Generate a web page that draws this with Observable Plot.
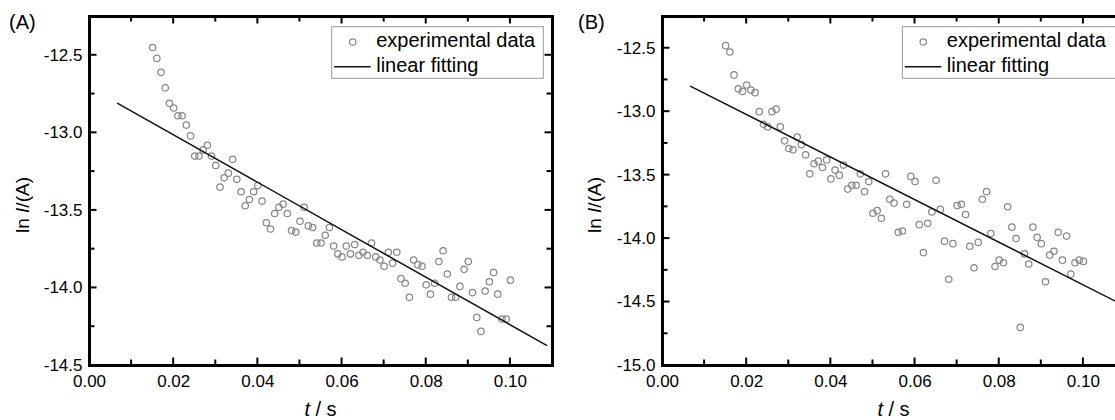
<!DOCTYPE html>
<html><head><meta charset="utf-8">
<script src="https://cdn.jsdelivr.net/npm/d3@7"></script>
<script src="https://cdn.jsdelivr.net/npm/@observablehq/plot@0.6"></script>
<style>
body{margin:0;background:#fff;}
#wrap{position:relative;width:1115px;height:420px;overflow:hidden;font-family:"Liberation Sans",Arial,sans-serif;background:#fff;}
#wrap svg{position:absolute;top:0;}
</style></head><body><div id="wrap"></div>
<script>
// time (s)
const t = [0.015,0.016,0.017,0.018,0.019,0.020,0.021,0.022,0.023,0.024,
0.025,0.026,0.027,0.028,0.029,0.030,0.031,0.032,0.033,0.034,
0.035,0.036,0.037,0.038,0.039,0.040,0.041,0.042,0.043,0.044,
0.045,0.046,0.047,0.048,0.049,0.050,0.051,0.052,0.053,0.054,
0.055,0.056,0.057,0.058,0.059,0.060,0.061,0.062,0.063,0.064,
0.065,0.066,0.067,0.068,0.069,0.070,0.071,0.072,0.073,0.074,
0.075,0.076,0.077,0.078,0.079,0.080,0.081,0.082,0.083,0.084,
0.085,0.086,0.087,0.088,0.089,0.090,0.091,0.092,0.093,0.094,
0.095,0.096,0.097,0.098,0.099,0.100];
// panel A: ln I
const lnA = [-12.45,-12.52,-12.61,-12.71,-12.81,-12.84,-12.89,-12.89,-12.95,-13.02,
-13.15,-13.15,-13.11,-13.08,-13.15,-13.21,-13.35,-13.29,-13.26,-13.17,
-13.30,-13.38,-13.47,-13.43,-13.38,-13.34,-13.44,-13.58,-13.62,-13.52,
-13.48,-13.46,-13.52,-13.63,-13.64,-13.57,-13.48,-13.60,-13.61,-13.71,
-13.71,-13.66,-13.61,-13.73,-13.78,-13.80,-13.73,-13.78,-13.72,-13.79,
-13.77,-13.79,-13.71,-13.80,-13.82,-13.86,-13.77,-13.84,-13.77,-13.94,
-13.97,-14.06,-13.82,-13.85,-13.86,-13.98,-14.04,-13.97,-13.83,-13.76,
-13.91,-14.06,-14.06,-13.99,-13.88,-13.83,-14.03,-14.19,-14.28,-14.02,
-13.96,-13.90,-14.04,-14.20,-14.20,-13.95];
// panel B: ln I
const lnB = [-12.48,-12.53,-12.71,-12.82,-12.84,-12.79,-12.83,-12.85,-13.00,-13.10,
-13.12,-13.00,-12.98,-13.12,-13.23,-13.29,-13.30,-13.20,-13.26,-13.34,
-13.49,-13.41,-13.39,-13.44,-13.38,-13.53,-13.46,-13.50,-13.42,-13.61,
-13.58,-13.58,-13.49,-13.63,-13.55,-13.80,-13.78,-13.84,-13.49,-13.69,
-13.72,-13.95,-13.94,-13.73,-13.51,-13.55,-13.89,-14.11,-13.88,-13.79,
-13.54,-13.77,-14.02,-14.32,-14.04,-13.74,-13.73,-13.81,-14.06,-14.23,
-14.03,-13.69,-13.63,-13.96,-14.22,-14.17,-14.19,-13.75,-13.91,-14.00,
-14.70,-14.12,-14.20,-13.91,-13.99,-14.04,-14.34,-14.13,-14.10,-13.95,
-14.17,-13.98,-14.28,-14.19,-14.17,-14.18];
// linear fits (end points)
const fitT = [0.0067, 0.1086];
const fitA = [-12.81, -14.37];
const fitB = [-12.80, -14.51];
// ticks
const xMajor = [0, 0.02, 0.04, 0.06, 0.08, 0.10];
const xMinor = [0.01, 0.03, 0.05, 0.07, 0.09];
const yMajorA = [-14.5, -14.0, -13.5, -13.0, -12.5];
const yMinorA = [-14.25, -13.75, -13.25, -12.75];
const yMajorB = [-15.0, -14.5, -14.0, -13.5, -13.0, -12.5];
const yMinorB = [-14.75, -14.25, -13.75, -13.25, -12.75];
const legendLabels = ["experimental data", "linear fitting"];
const panelTags = ["(A)", "(B)"];

const FONT = "Liberation Sans, Arial, sans-serif";
const MT = 16, MB = 55, H = 420;

function panel({values, fit, yDomain, yMajor, yMinor, left, width, marginLeft, marginRight, tag, yTitleX, tagX, legendX, legendW}) {
  const pts = t.map((d, i) => ({t: d, v: values[i]}));
  const line = fitT.map((d, i) => ({t: d, v: fit[i]}));
  const fw = width - marginLeft - marginRight;
  const svg = Plot.plot({
    width, height: H, marginLeft, marginRight, marginTop: MT, marginBottom: MB,
    style: {fontFamily: FONT, fontSize: "17px", color: "#000", background: "transparent", overflow: "visible"},
    x: {domain: [0, 0.11], label: null},
    y: {domain: yDomain, label: null},
    marks: [
      Plot.dot(pts, {x: "t", y: "v", r: 3.2, stroke: "#888", strokeWidth: 1.25, fill: "none"}),
      Plot.line(line, {x: "t", y: "v", stroke: "#111", strokeWidth: 1.5}),
      Plot.frame({stroke: "#000", strokeWidth: 3}),
      Plot.axisX({ticks: xMajor, anchor: "bottom", tickSize: 0, tickPadding: 9, tickFormat: d => d.toFixed(2), label: null, fontSize: 17}),
      Plot.axisY({ticks: yMajor, anchor: "left", tickSize: 0, tickPadding: 7, tickFormat: d => d.toFixed(1), label: null, fontSize: 17})
    ]
  });
  svg.style.left = left + "px";
  const s = d3.select(svg);
  // inward ticks on all four sides, positioned with the plot's own scales
  const sx = svg.scale("x"), sy = svg.scale("y");
  const x0 = marginLeft, x1 = width - marginRight, y0 = MT, y1 = H - MB;
  const g = s.append("g").attr("stroke", "#000").attr("stroke-width", 2);
  const xt = [...xMajor.map(v => [v, 6]), ...xMinor.map(v => [v, 4])];
  const ytk = [...yMajor.map(v => [v, 6]), ...yMinor.map(v => [v, 4])];
  for (const [v, L] of xt) {
    const px = sx.apply(v);
    g.append("line").attr("x1", px).attr("x2", px).attr("y1", y1).attr("y2", y1 - L - 1.5);
    g.append("line").attr("x1", px).attr("x2", px).attr("y1", y0).attr("y2", y0 + L + 1.5);
  }
  for (const [v, L] of ytk) {
    const py = sy.apply(v);
    g.append("line").attr("y1", py).attr("y2", py).attr("x1", x0).attr("x2", x0 + L + 1.5);
    g.append("line").attr("y1", py).attr("y2", py).attr("x1", x1).attr("x2", x1 - L - 1.5);
  }
  // y title
  const yt = s.append("text").attr("transform", `translate(${yTitleX},205) rotate(-90)`)
    .attr("text-anchor", "middle").attr("font-size", 19).attr("fill", "#000");
  yt.append("tspan").text("ln ");
  yt.append("tspan").attr("font-style", "italic").text("I");
  yt.append("tspan").text("/(A)");
  // x title
  const cx = marginLeft + fw / 2;
  const xtt = s.append("text").attr("x", cx).attr("y", 416)
    .attr("text-anchor", "middle").attr("font-size", 20).attr("fill", "#000");
  xtt.append("tspan").attr("font-style", "italic").text("t");
  xtt.append("tspan").text(" / s");
  // panel tag
  s.append("text").attr("x", tagX).attr("y", 29).attr("text-anchor", "start").attr("font-size", 20).attr("fill", "#000").text(tag);
  // legend
  const lg = s.append("g").attr("transform", `translate(${legendX},26.7)`);
  lg.append("rect").attr("width", legendW).attr("height", 51.6).attr("fill", "#fff").attr("stroke", "#9a9a9a").attr("stroke-width", 1);
  lg.append("circle").attr("cx", 21).attr("cy", 15.3).attr("r", 3.2).attr("fill", "none").attr("stroke", "#888").attr("stroke-width", 1.25);
  lg.append("line").attr("x1", 2.5).attr("x2", 39).attr("y1", 40).attr("y2", 40).attr("stroke", "#111").attr("stroke-width", 1.5);
  lg.append("text").attr("x", 44.5).attr("y", 20.3).attr("text-anchor", "start").attr("font-size", 20).attr("fill", "#000").text(legendLabels[0]);
  lg.append("text").attr("x", 44.5).attr("y", 45.3).attr("text-anchor", "start").attr("font-size", 20).attr("fill", "#000").text(legendLabels[1]);
  return svg;
}

const wrap = document.getElementById("wrap");
wrap.appendChild(panel({values: lnA, fit: fitA, yDomain: [-14.5, -12.25], yMajor: yMajorA, yMinor: yMinorA,
  left: 0, width: 560, marginLeft: 89, marginRight: 8, tag: panelTags[0], yTitleX: 29, tagX: 9, legendX: 331.7, legendW: 211.6}));
wrap.appendChild(panel({values: lnB, fit: fitB, yDomain: [-15, -12.25], yMajor: yMajorB, yMinor: yMinorB,
  left: 560, width: 570, marginLeft: 102, marginRight: 5, tag: panelTags[1], yTitleX: 41, tagX: 18, legendX: 342.3, legendW: 214}));
</script></body></html>
